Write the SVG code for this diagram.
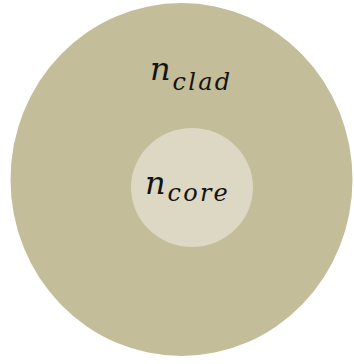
<svg xmlns="http://www.w3.org/2000/svg" width="354" height="364" viewBox="0 0 354 364">
  <style>
    .lbl { font-family: "DejaVu Serif", "Liberation Serif", serif; font-style: italic; fill: #141414; }
    .main { font-size: 32px; letter-spacing: 2px; }
    .sub { font-size: 24px; letter-spacing: 2.2px; }
  </style>
  <rect width="354" height="364" fill="#ffffff"/>
  <g id="cladding">
    <ellipse cx="181.5" cy="179.5" rx="171" ry="176.5" fill="#c4bd99"/>
    <text class="lbl" x="150" y="80"><tspan class="main">n</tspan><tspan class="sub" dy="10">clad</tspan></text>
  </g>
  <g id="core">
    <ellipse cx="192" cy="187.5" rx="61" ry="59.5" fill="#dcd8c3"/>
    <text class="lbl" x="145" y="194"><tspan class="main">n</tspan><tspan class="sub" dy="7">core</tspan></text>
  </g>
</svg>
